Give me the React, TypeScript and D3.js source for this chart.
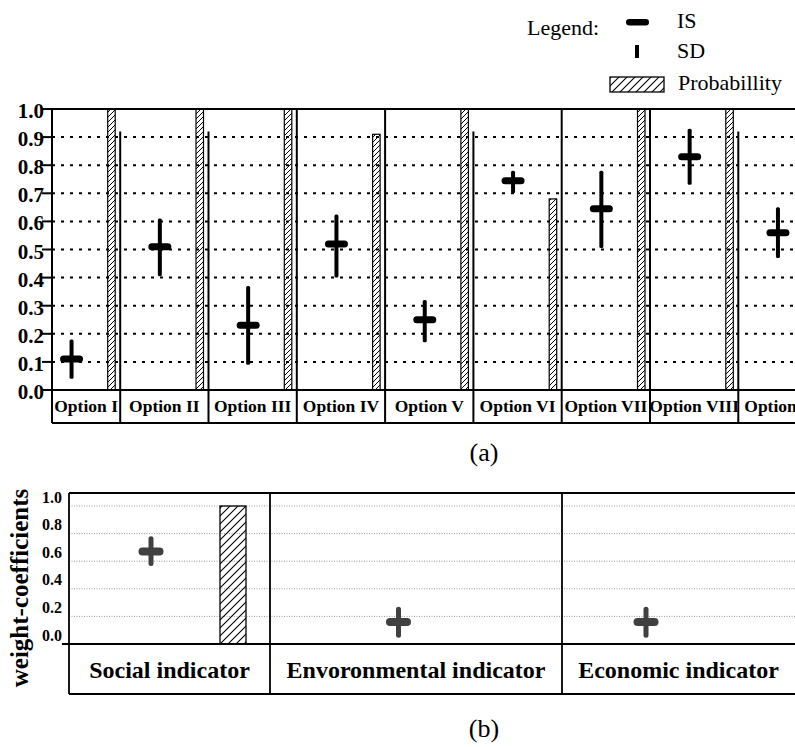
import React from "react";
import * as d3 from "d3";

// ---------- Data (a) ----------
const options = ["Option I", "Option II", "Option III", "Option IV", "Option V", "Option VI", "Option VII", "Option VIII", "Option IX"];
const isValues = [0.11, 0.51, 0.23, 0.52, 0.25, 0.745, 0.645, 0.83, 0.56];
const sdLow = [0.04, 0.405, 0.09, 0.4, 0.17, 0.7, 0.505, 0.73, 0.47];
const sdHigh = [0.18, 0.61, 0.37, 0.625, 0.32, 0.78, 0.78, 0.93, 0.65];
const probability = [1, 1, 1, 0.91, 1, 0.68, 1, 1, 1];
const dividerTop = [0.92, 0.92, 1, 1, 0.92, 1, 1, 0.92];
const topTicks = [0, 0.1, 0.2, 0.3, 0.4, 0.5, 0.6, 0.7, 0.8, 0.9, 1.0];

// ---------- Data (b) ----------
const indicators = ["Social indicator", "Envoronmental indicator", "Economic indicator"];
const indIS = [0.67, 0.16, 0.16];
const indLow = [0.565, 0.045, 0.045];
const indHigh = [0.78, 0.27, 0.27];
const indProb = [1, 0, 0];
const bottomTicks = [0, 0.2, 0.4, 0.6, 0.8, 1.0];

const FONT = "'Liberation Serif', 'Times New Roman', serif";

export default function App() {
  const W = 795;
  const H = 747;

  // ---- top chart layout ----
  const tLeft = 52, tRight = W, tTop = 109, tBottom = 390, tLabelBottom = 423;
  const yT = d3.scaleLinear().domain([0, 1]).range([tBottom, tTop]);
  const xT = d3.scaleBand<string>().domain(options).range([31.9, 826.6]).paddingInner(0).paddingOuter(0);
  const step = xT.step();

  // ---- bottom chart layout ----
  const bLeft = 69, bRight = W, bTop = 493, bBottom = 644, bLabelBottom = 694;
  const yB = d3.scaleLinear().domain([0, 1]).range([bBottom, 506]);
  const xB = d3.scaleBand<string>().domain(indicators).range([27.25, 769.75]);
  const bStep = xB.step();
  const sectionEdges = [bLeft, 270, 562, bRight];

  return (
    <svg width={W} height={H} style={{ position: "absolute", left: 0, top: 0, background: "#fff" }} fontFamily={FONT}>
      <defs>
        <pattern id="hatchS" patternUnits="userSpaceOnUse" width={5} height={5}>
          <path d="M-1,1 L1,-1 M0,5 L5,0 M4,6 L6,4" stroke="#000" strokeWidth={1} />
        </pattern>
        <pattern id="hatchL" patternUnits="userSpaceOnUse" width={8} height={8}>
          <path d="M-1,1 L1,-1 M0,8 L8,0 M7,9 L9,7" stroke="#000" strokeWidth={1.1} />
        </pattern>
        <clipPath id="clipTop">
          <rect x={tLeft} y={0} width={tRight - tLeft} height={440} />
        </clipPath>
      </defs>
      <rect x={0} y={0} width={W} height={H} fill="#fff" />

      {/* ---------- Legend ---------- */}
      <g fontSize={22} fill="#000">
        <text x={527} y={35}>Legend:</text>
        <rect x={626} y={19} width={23} height={6.5} rx={3.2} fill="#000" />
        <text x={677} y={28}>IS</text>
        <rect x={635} y={45} width={4} height={13} fill="#000" />
        <text x={677} y={58}>SD</text>
        <rect x={610} y={77} width={54} height={15} fill="url(#hatchL)" stroke="#000" strokeWidth={1.3} />
        <text x={678} y={90}>Probabillity</text>
      </g>

      {/* ---------- Chart (a) ---------- */}
      <g>
        {topTicks.filter(t => t > 0 && t < 1).map(t => (
          <line key={t} x1={tLeft} x2={tRight} y1={yT(t)} y2={yT(t)} stroke="#000" strokeWidth={2} strokeDasharray="3,6" />
        ))}
        <g clipPath="url(#clipTop)">
          {options.map((o, i) => {
            const x0 = xT(o)!;
            const x1 = x0 + step;
            return (
              <g key={o}>
                <rect x={x1 - 12.5} y={yT(probability[i])} width={7.5} height={yT(0) - yT(probability[i])}
                  fill="url(#hatchS)" stroke="#000" strokeWidth={1.2} />
                {i < dividerTop.length && (
                  <line x1={x1} x2={x1} y1={yT(dividerTop[i])} y2={tLabelBottom} stroke="#000" strokeWidth={2} />
                )}
              </g>
            );
          })}
          {options.map((o, i) => {
            const cx = xT(o)! + step / 2 - 4.5;
            return (
              <g key={o + "c"}>
                <rect x={cx - 2} y={yT(sdHigh[i])} width={4} height={yT(sdLow[i]) - yT(sdHigh[i])} rx={1.5} fill="#000" />
                <rect x={cx - 11.5} y={yT(isValues[i]) - 3.5} width={23} height={7} rx={3.5} fill="#000" />
              </g>
            );
          })}
          {options.map((o) => {
            const x0 = Math.max(xT(o)!, tLeft);
            const x1 = xT(o)! + step;
            return (
              <text key={o + "l"} x={(x0 + x1) / 2} y={412} textAnchor="middle" fontSize={17.5} fontWeight="bold">{o}</text>
            );
          })}
        </g>
        {/* frame */}
        <line x1={tLeft} x2={tRight} y1={tTop} y2={tTop} stroke="#000" strokeWidth={2} />
        <line x1={42} x2={tRight} y1={tBottom} y2={tBottom} stroke="#000" strokeWidth={2} />
        <line x1={tLeft} x2={tRight} y1={tLabelBottom} y2={tLabelBottom} stroke="#000" strokeWidth={2} />
        <line x1={tLeft} x2={tLeft} y1={tTop} y2={tLabelBottom} stroke="#000" strokeWidth={2} />
        {topTicks.map(t => (
          <g key={"tk" + t}>
            <line x1={42} x2={tLeft} y1={yT(t)} y2={yT(t)} stroke="#000" strokeWidth={2} />
            <text x={44} y={yT(t) + 9} textAnchor="end" fontSize={21} fontWeight="bold">{t.toFixed(1)}</text>
          </g>
        ))}
        <text x={484} y={461} textAnchor="middle" fontSize={26}>(a)</text>
      </g>

      {/* ---------- Chart (b) ---------- */}
      <g>
        {bottomTicks.filter(t => t > 0).map(t => (
          <line key={"bg" + t} x1={bLeft} x2={bRight} y1={yB(t)} y2={yB(t)} stroke="#9a9a9a" strokeWidth={1} strokeDasharray="1,1.5" />
        ))}
        {indicators.map((d, i) => {
          const c = xB(d)! + bStep / 2;
          return (
            <g key={d}>
              {indProb[i] > 0 && (
                <rect x={c + 69} y={yB(indProb[i])} width={26} height={yB(0) - yB(indProb[i])}
                  fill="url(#hatchL)" stroke="#000" strokeWidth={1.3} />
              )}
              <rect x={c - 2.5} y={yB(indHigh[i])} width={5} height={yB(indLow[i]) - yB(indHigh[i])} rx={2.5} fill="#404040" />
              <rect x={c - 12.5} y={yB(indIS[i]) - 4} width={25} height={8} rx={4} fill="#404040" />
            </g>
          );
        })}
        {/* frame */}
        <line x1={bLeft} x2={bRight} y1={bTop} y2={bTop} stroke="#000" strokeWidth={1.8} />
        <line x1={62} x2={bRight} y1={bBottom} y2={bBottom} stroke="#000" strokeWidth={1.8} />
        <line x1={bLeft} x2={bRight} y1={bLabelBottom} y2={bLabelBottom} stroke="#000" strokeWidth={1.8} />
        <line x1={bLeft} x2={bLeft} y1={bTop} y2={bLabelBottom} stroke="#000" strokeWidth={1.8} />
        {sectionEdges.slice(1, 3).map(x => (
          <line key={"se" + x} x1={x} x2={x} y1={bTop} y2={bLabelBottom} stroke="#000" strokeWidth={1.8} />
        ))}
        {indicators.map((d, i) => (
          <text key={d + "l"} x={(sectionEdges[i] + sectionEdges[i + 1]) / 2} y={678} textAnchor="middle" fontSize={24} fontWeight="bold">{d}</text>
        ))}
        {bottomTicks.map(t => (
          <text key={"bt" + t} x={62} y={yB(t) - 3.5} textAnchor="end" fontSize={16} fontWeight="bold">{t.toFixed(1)}</text>
        ))}
        <text transform={`translate(28,588) rotate(-90)`} textAnchor="middle" fontSize={25} fontWeight="bold">weight-coefficients</text>
        <text x={484} y={737} textAnchor="middle" fontSize={26}>(b)</text>
      </g>
    </svg>
  );
}
